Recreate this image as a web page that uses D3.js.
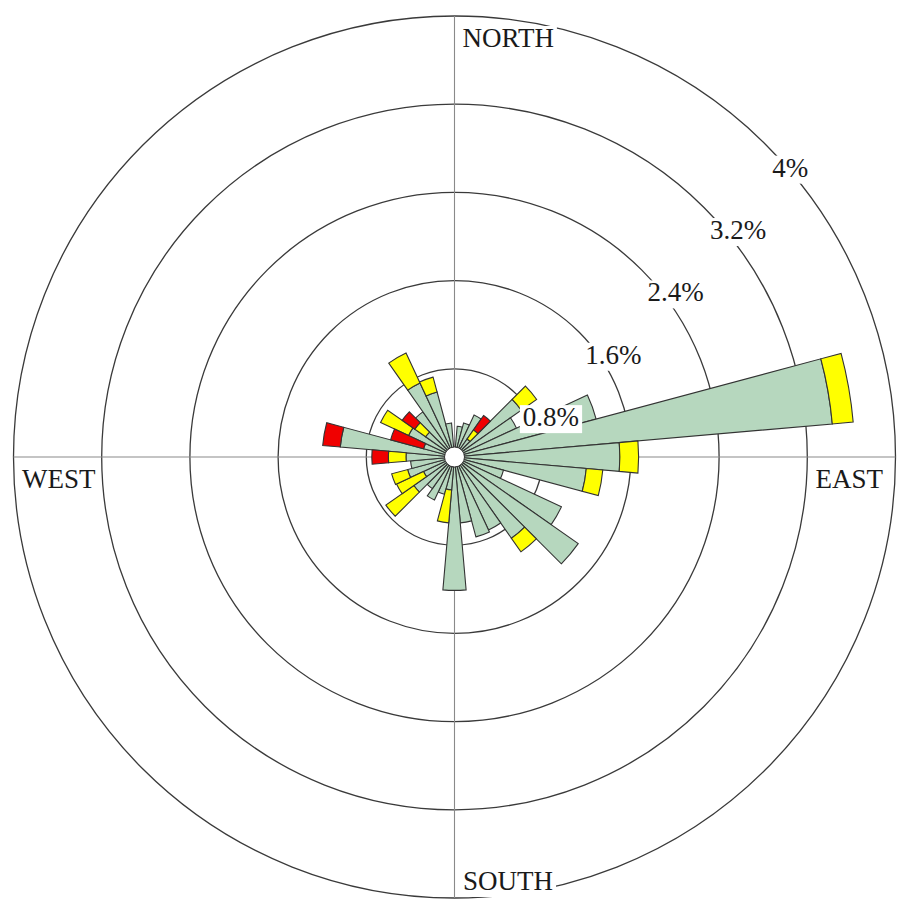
<!DOCTYPE html>
<html>
<head>
<meta charset="utf-8">
<script src="https://cdn.jsdelivr.net/npm/d3@7"></script>
<style>
  html, body { margin: 0; padding: 0; background: #fff; }
  svg { display: block; }
  text { font-family: "Liberation Serif", "DejaVu Serif", serif; fill: #1a1a1a; }
</style>
</head>
<body>
<svg id="chart" width="899" height="899"></svg>
<script>
// ---- data (frequency %, per direction sector, per speed class) ----
const directions = [0,10,20,30,40,50,60,70,80,90,100,110,120,130,140,150,160,170,
                    180,190,200,210,220,230,240,250,260,270,280,290,300,310,320,330,340,350];
const lowSpeed  = [0.06,0.28,0.32,0.42,0.20,0.74,0.62,1.33,3.44,1.50,1.20,0.46,1.07,1.37,0.90,0.73,0.75,0.60,
                   1.21,0.30,0.35,0.43,0.35,0.45,0.31,0.44,0.40,0.44,1.04,0.29,0.46,0.32,0.50,0.74,0.61,0.31];
const midSpeed  = [0,0,0,0,0.10,0.17,0,0,0.19,0.17,0.15,0,0,0,0.15,0,0,0,
                   0,0.30,0,0,0,0.31,0.27,0.15,0,0.16,0,0,0.28,0.12,0,0.30,0.14,0];
const highSpeed = [0,0,0,0,0.16,0,0,0,0,0,0,0,0,0,0,0,0,0,
                   0,0,0,0,0,0,0,0,0,0.15,0.16,0.31,0,0.14,0,0,0,0];
const speedKeys = ["low","mid","high"];
const speedColors = ["#b6d7be","#ffff00","#f00000"];
const ringTicks = [0.8, 1.6, 2.4, 3.2, 4];
const ringLabels = ["0.8%","1.6%","2.4%","3.2%","4%"];
const cardinalLabels = ["NORTH","EAST","SOUTH","WEST"];
const sectorWidth = 10; // degrees

// ---- layout ----
const cx = 454.5, cy = 457, R = 441, holeR = 10;
const svg = d3.select("#chart");
const g = svg.append("g").attr("transform", `translate(${cx},${cy})`);
const r = d3.scaleLinear().domain([0, d3.max(ringTicks)]).range([0, R]);
const rad = d => d * Math.PI / 180;

// rings
g.append("g").selectAll("circle").data(ringTicks).join("circle")
  .attr("r", d => r(d)).attr("fill", "none")
  .attr("stroke", "#3a3a3a").attr("stroke-width", 1.3);

// cross lines
g.append("line").attr("x1", 0).attr("x2", 0).attr("y1", -R).attr("y2", R)
  .attr("stroke", "#8a8a8a").attr("stroke-width", 1.1);
g.append("line").attr("x1", -R).attr("x2", R).attr("y1", 0).attr("y2", 0)
  .attr("stroke", "#8a8a8a").attr("stroke-width", 1.1);

// stacked bars
const table = directions.map((d, i) => ({dir: d, low: lowSpeed[i], mid: midSpeed[i], high: highSpeed[i]}));
const stacked = d3.stack().keys(speedKeys)(table);
const arc = d3.arc();
const barsG = g.append("g");
stacked.forEach((layer, li) => {
  barsG.append("g").selectAll("path")
    .data(layer.filter(s => s[1] - s[0] > 0))
    .join("path")
    .attr("d", s => arc({
      innerRadius: r(s[0]),
      outerRadius: r(s[1]),
      startAngle: rad(s.data.dir - sectorWidth / 2),
      endAngle: rad(s.data.dir + sectorWidth / 2)
    }))
    .attr("fill", speedColors[li])
    .attr("stroke", "#333")
    .attr("stroke-width", 1.1)
    .attr("stroke-linejoin", "miter");
});

// central hole
g.append("circle").attr("r", holeR).attr("fill", "#fff")
  .attr("stroke", "#333").attr("stroke-width", 1);

// label helper with white background
function label(parent, txt, x, y, anchor) {
  const t = parent.append("g");
  const te = t.append("text").attr("x", x).attr("y", y)
    .attr("text-anchor", anchor || "start")
    .attr("font-size", 27).text(txt);
  const bb = te.node().getBBox();
  t.insert("rect", "text")
    .attr("x", bb.x - 3).attr("y", bb.y + 3)
    .attr("width", bb.width + 6).attr("height", bb.height - 2)
    .attr("fill", "#fff");
}

// ring labels placed along the 45° diagonal
const labG = g.append("g");
ringTicks.forEach((t, i) => {
  const p = r(t) / Math.SQRT2;
  label(labG, ringLabels[i], p + 6, -p + 31.5, "start");
});

// cardinal labels
const cardG = g.append("g");
label(cardG, cardinalLabels[0], 8, -R + 31, "start");
label(cardG, cardinalLabels[1], R - 80, 31, "start");
label(cardG, cardinalLabels[2], 8.5, R - 8, "start");
label(cardG, cardinalLabels[3], -R + 8.5, 31, "start");
</script>
</body>
</html>
